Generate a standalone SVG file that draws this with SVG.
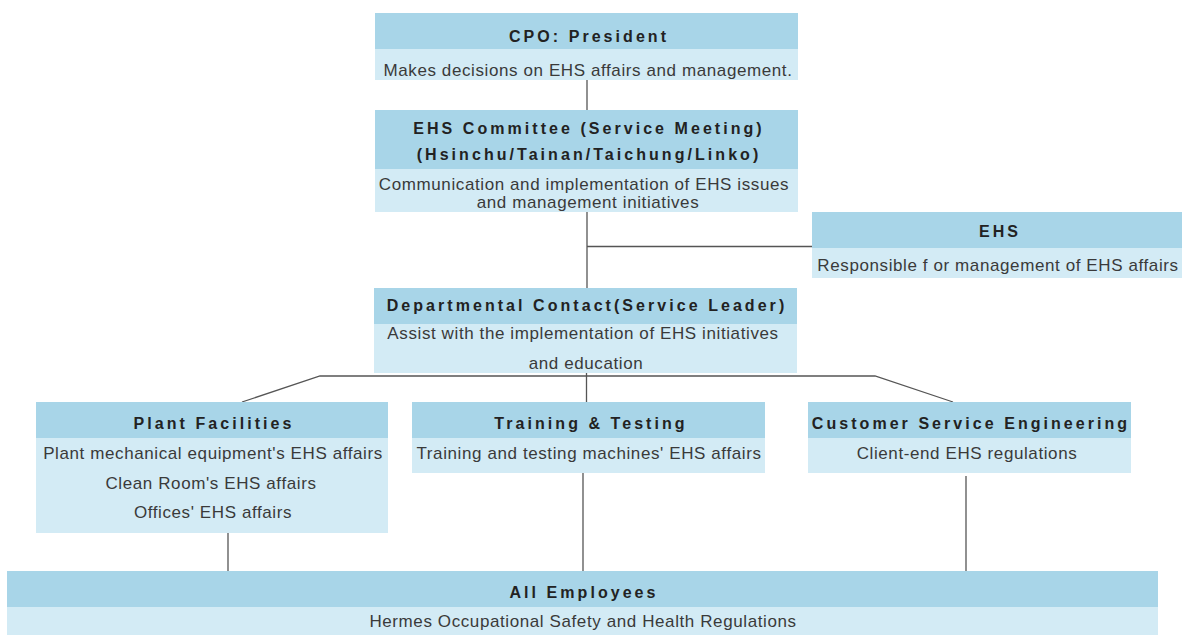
<svg xmlns="http://www.w3.org/2000/svg" width="1182" height="635" viewBox="0 0 1182 635">
  <style>
    .hd { fill: #a8d5e8; }
    .bd { fill: #d3ebf5; }
    .ht { font-family: "Liberation Sans", Arial, sans-serif; font-weight: bold; font-size: 16px; letter-spacing: 3.05px; fill: #222; text-anchor: middle; }
    .bt { font-family: "Liberation Sans", Arial, sans-serif; font-size: 17px; letter-spacing: 0.6px; fill: #3a3a3a; text-anchor: middle; }
    .ln { stroke: #555; stroke-width: 1.3; fill: none; }
  </style>

  <!-- connectors -->
  <g id="connectors">
    <line class="ln" x1="587" y1="80" x2="587" y2="110"/>
    <line class="ln" x1="587" y1="212" x2="587" y2="288"/>
    <line class="ln" x1="587" y1="246.5" x2="812" y2="246.5"/>
    <polyline class="ln" points="242,402 320,376 875,376 953,402"/>
    <line class="ln" x1="586.5" y1="368" x2="586.5" y2="402"/>
    <line class="ln" x1="228" y1="533" x2="228" y2="571"/>
    <line class="ln" x1="583" y1="473" x2="583" y2="571"/>
    <line class="ln" x1="966" y1="476" x2="966" y2="573"/>
  </g>

  <g id="cpo">
    <rect class="hd" x="375" y="13" width="423" height="36"/>
    <rect class="bd" x="375" y="49" width="423" height="31"/>
    <text class="ht" x="589" y="42">CPO: President</text>
    <text class="bt" x="588" y="76">Makes decisions on EHS affairs and management.</text>
  </g>

  <g id="ehs-committee">
    <rect class="hd" x="375" y="110" width="423" height="59"/>
    <rect class="bd" x="375" y="169" width="423" height="43"/>
    <text class="ht" x="589" y="134">EHS Committee (Service Meeting)</text>
    <text class="ht" x="589" y="160">(Hsinchu/Tainan/Taichung/Linko)</text>
    <text class="bt" x="584" y="190">Communication and implementation of EHS issues</text>
    <text class="bt" x="588" y="208">and management initiatives</text>
  </g>

  <g id="ehs">
    <rect class="hd" x="812" y="212" width="370" height="36"/>
    <rect class="bd" x="812" y="248" width="370" height="30"/>
    <text class="ht" x="1000" y="237">EHS</text>
    <text class="bt" x="998" y="271">Responsible f or management of EHS affairs</text>
  </g>

  <g id="departmental-contact">
    <rect class="hd" x="374" y="288" width="423" height="36"/>
    <rect class="bd" x="374" y="324" width="423" height="49"/>
    <text class="ht" x="587" y="311">Departmental Contact(Service Leader)</text>
    <text class="bt" x="583" y="339">Assist with the implementation of EHS initiatives</text>
    <text class="bt" x="586" y="369">and education</text>
  </g>

  <g id="plant-facilities">
    <rect class="hd" x="36" y="402" width="352" height="36"/>
    <rect class="bd" x="36" y="438" width="352" height="95"/>
    <text class="ht" x="214" y="429">Plant Facilities</text>
    <text class="bt" x="213" y="459">Plant mechanical equipment's EHS affairs</text>
    <text class="bt" x="211" y="489">Clean Room's EHS affairs</text>
    <text class="bt" x="213" y="518">Offices' EHS affairs</text>
  </g>

  <g id="training-testing">
    <rect class="hd" x="412" y="402" width="353" height="36"/>
    <rect class="bd" x="412" y="438" width="353" height="35"/>
    <text class="ht" x="591" y="429">Training &amp; Testing</text>
    <text class="bt" x="589" y="459">Training and testing machines' EHS affairs</text>
  </g>

  <g id="customer-service">
    <rect class="hd" x="808" y="402" width="323" height="36"/>
    <rect class="bd" x="808" y="438" width="323" height="35"/>
    <text class="ht" x="971" y="429">Customer Service Engineering</text>
    <text class="bt" x="967" y="459">Client-end EHS regulations</text>
  </g>

  <g id="all-employees">
    <rect class="hd" x="7" y="571" width="1151" height="36"/>
    <rect class="bd" x="7" y="607" width="1151" height="28"/>
    <text class="ht" x="584" y="598">All Employees</text>
    <text class="bt" x="583" y="627">Hermes Occupational Safety and Health Regulations</text>
  </g>
</svg>
